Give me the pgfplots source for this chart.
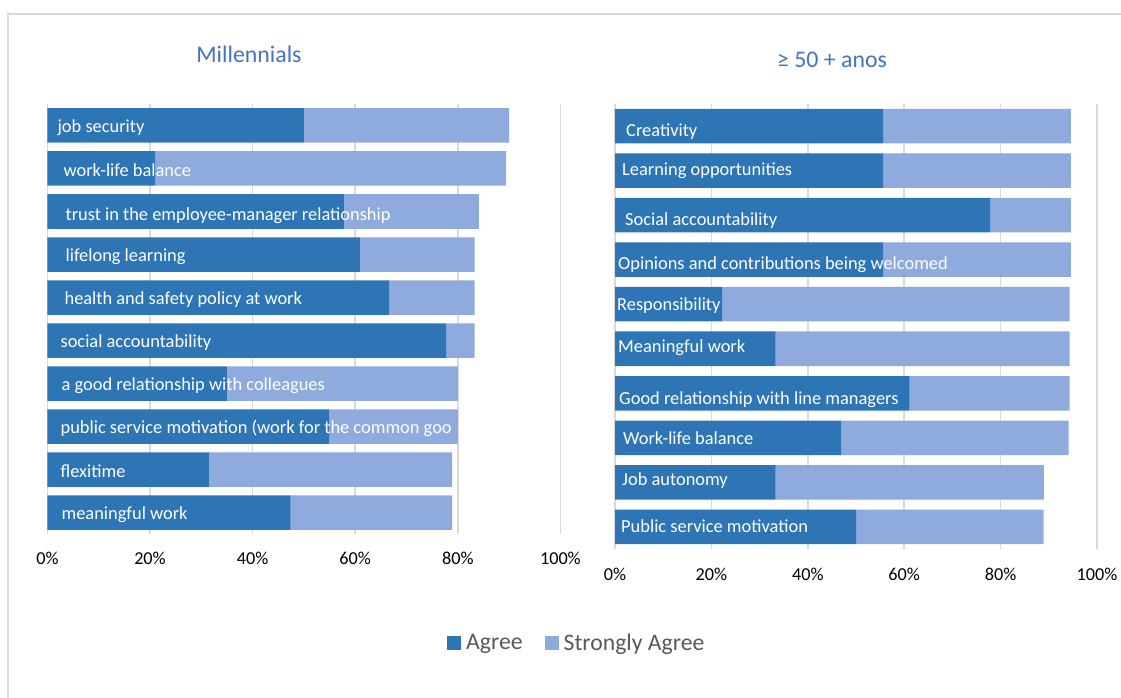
\documentclass[border=0pt]{standalone}
\usepackage{pgfplots}
\pgfplotsset{compat=1.18}
\usepackage{fontspec}
\setmainfont{Carlito}
\definecolor{agree}{HTML}{2E75B6}
\definecolor{sagree}{HTML}{8FAADC}
\definecolor{titleblue}{HTML}{4472C4}
\definecolor{gridgray}{HTML}{D9D9D9}
\definecolor{legtext}{HTML}{595959}
\pgfplotsset{
  mybars/.style={
    xbar stacked, scale only axis, y dir=reverse,
    ymin=0.5, ymax=10.5, xmin=0, xmax=100,
    bar width=34.5pt,
    axis line style={draw=none}, major tick length=0pt,
    ytick=\empty,
    xtick={0,20,40,60,80,100},
    xticklabels={0\%,20\%,40\%,60\%,80\%,100\%},
    xmajorgrids, grid style={gridgray, line width=1.5pt},
    clip=false,
    xticklabel style={font=\fontsize{18.2}{20}\selectfont, text=black},
  },
}
\tikzset{lbl/.style={anchor=west, inner sep=0pt, text=white, font=\fontsize{18.4}{20}\selectfont}}
\begin{document}
\begin{tikzpicture}[x=1pt,y=1pt]
\useasboundingbox (0,0) rectangle (1121,698);
\draw[gridgray, line width=1.5pt] (8,0) -- (8,684) -- (1121,684);
\node[font=\fontsize{23.8}{28}\selectfont, text=titleblue] at (249,644) {Millennials};
\node[font=\fontsize{23.8}{28}\selectfont, text=titleblue] at (832,638) {≥ 50 + anos};

\begin{axis}[mybars, at={(47.4pt,164pt)}, anchor=south west, width=513pt, height=430pt,
  xticklabel style={yshift=-15pt},
  legend image code/.code={\fill[#1] (0pt,-7pt) rectangle (14pt,7pt); \path (0pt,0pt) -- (17pt,0pt);},
  legend style={at={(1.032,-0.2535)}, anchor=center, draw=none, fill=none,
    legend columns=2, font=\fontsize{23.7}{28}\selectfont, text=legtext,
    /tikz/every even column/.append style={column sep=20pt}}]
\addplot[fill=agree, draw=none] coordinates {
 (50.0,1) (21.0,2) (57.8,3) (60.9,4) (66.6,5) (77.7,6) (35.0,7) (54.9,8) (31.5,9) (47.4,10)};
\addplot[fill=sagree, draw=none] coordinates {
 (40.0,1) (68.4,2) (26.3,3) (22.4,4) (16.7,5) (5.6,6) (45.0,7) (25.1,8) (47.4,9) (31.5,10)};
\legend{Agree, Strongly Agree}
\coordinate (A1) at (axis cs:0,1);
\coordinate (A2) at (axis cs:0,2);
\coordinate (A3) at (axis cs:0,3);
\coordinate (A4) at (axis cs:0,4);
\coordinate (A5) at (axis cs:0,5);
\coordinate (A6) at (axis cs:0,6);
\coordinate (A7) at (axis cs:0,7);
\coordinate (A8) at (axis cs:0,8);
\coordinate (A9) at (axis cs:0,9);
\coordinate (A10) at (axis cs:0,10);
\end{axis}

\begin{axis}[mybars, at={(615pt,149pt)}, anchor=south west, width=482pt, height=445pt,
  xticklabel style={yshift=-16pt}]
\addplot[fill=agree, draw=none] coordinates {
 (55.6,1) (55.6,2) (77.8,3) (55.6,4) (22.2,5) (33.3,6) (61.1,7) (46.9,8) (33.3,9) (50.0,10)};
\addplot[fill=sagree, draw=none] coordinates {
 (39.0,1) (39.0,2) (16.8,3) (39.0,4) (72.1,5) (61.0,6) (33.2,7) (47.2,8) (55.7,9) (38.9,10)};
\coordinate (B1) at (axis cs:0,1);
\coordinate (B2) at (axis cs:0,2);
\coordinate (B3) at (axis cs:0,3);
\coordinate (B4) at (axis cs:0,4);
\coordinate (B5) at (axis cs:0,5);
\coordinate (B6) at (axis cs:0,6);
\coordinate (B7) at (axis cs:0,7);
\coordinate (B8) at (axis cs:0,8);
\coordinate (B9) at (axis cs:0,9);
\coordinate (B10) at (axis cs:0,10);
\end{axis}

\node[lbl, xshift=10pt, yshift=-2pt] at (A1) {job security};
\node[lbl, xshift=16pt, yshift=-2pt] at (A2) {work-life balance};
\node[lbl, xshift=18pt, yshift=-4pt] at (A3) {trust in the employee-manager relationship};
\node[lbl, xshift=18pt, yshift=-2pt] at (A4) {lifelong learning};
\node[lbl, xshift=17pt, yshift=-2pt] at (A5) {health and safety policy at work};
\node[lbl, xshift=13pt, yshift=-2pt] at (A6) {social accountability};
\node[lbl, xshift=14pt, yshift=-2pt] at (A7) {a good relationship with colleagues};
\node[lbl, xshift=13pt, yshift=-2pt] at (A8) {public service motivation (work for the common goo};
\node[lbl, xshift=13pt, yshift=-2pt] at (A9) {flexitime};
\node[lbl, xshift=14pt, yshift=-2pt] at (A10) {meaningful work};

\node[lbl, xshift=11pt, yshift=-5.5pt] at (B1) {Creativity};
\node[lbl, xshift=7pt, yshift=0pt] at (B2) {Learning opportunities};
\node[lbl, xshift=10pt, yshift=-5pt] at (B3) {Social accountability};
\node[lbl, xshift=3pt, yshift=-4.5pt] at (B4) {Opinions and contributions being welcomed};
\node[lbl, xshift=2pt, yshift=-1.5pt] at (B5) {Responsibility};
\node[lbl, xshift=3pt, yshift=1pt] at (B6) {Meaningful work};
\node[lbl, xshift=4pt, yshift=-6pt] at (B7) {Good relationship with line managers};
\node[lbl, xshift=8pt, yshift=0pt] at (B8) {Work-life balance};
\node[lbl, xshift=7pt, yshift=1.5pt] at (B9) {Job autonomy};
\node[lbl, xshift=6pt, yshift=1pt] at (B10) {Public service motivation};
\end{tikzpicture}
\end{document}
